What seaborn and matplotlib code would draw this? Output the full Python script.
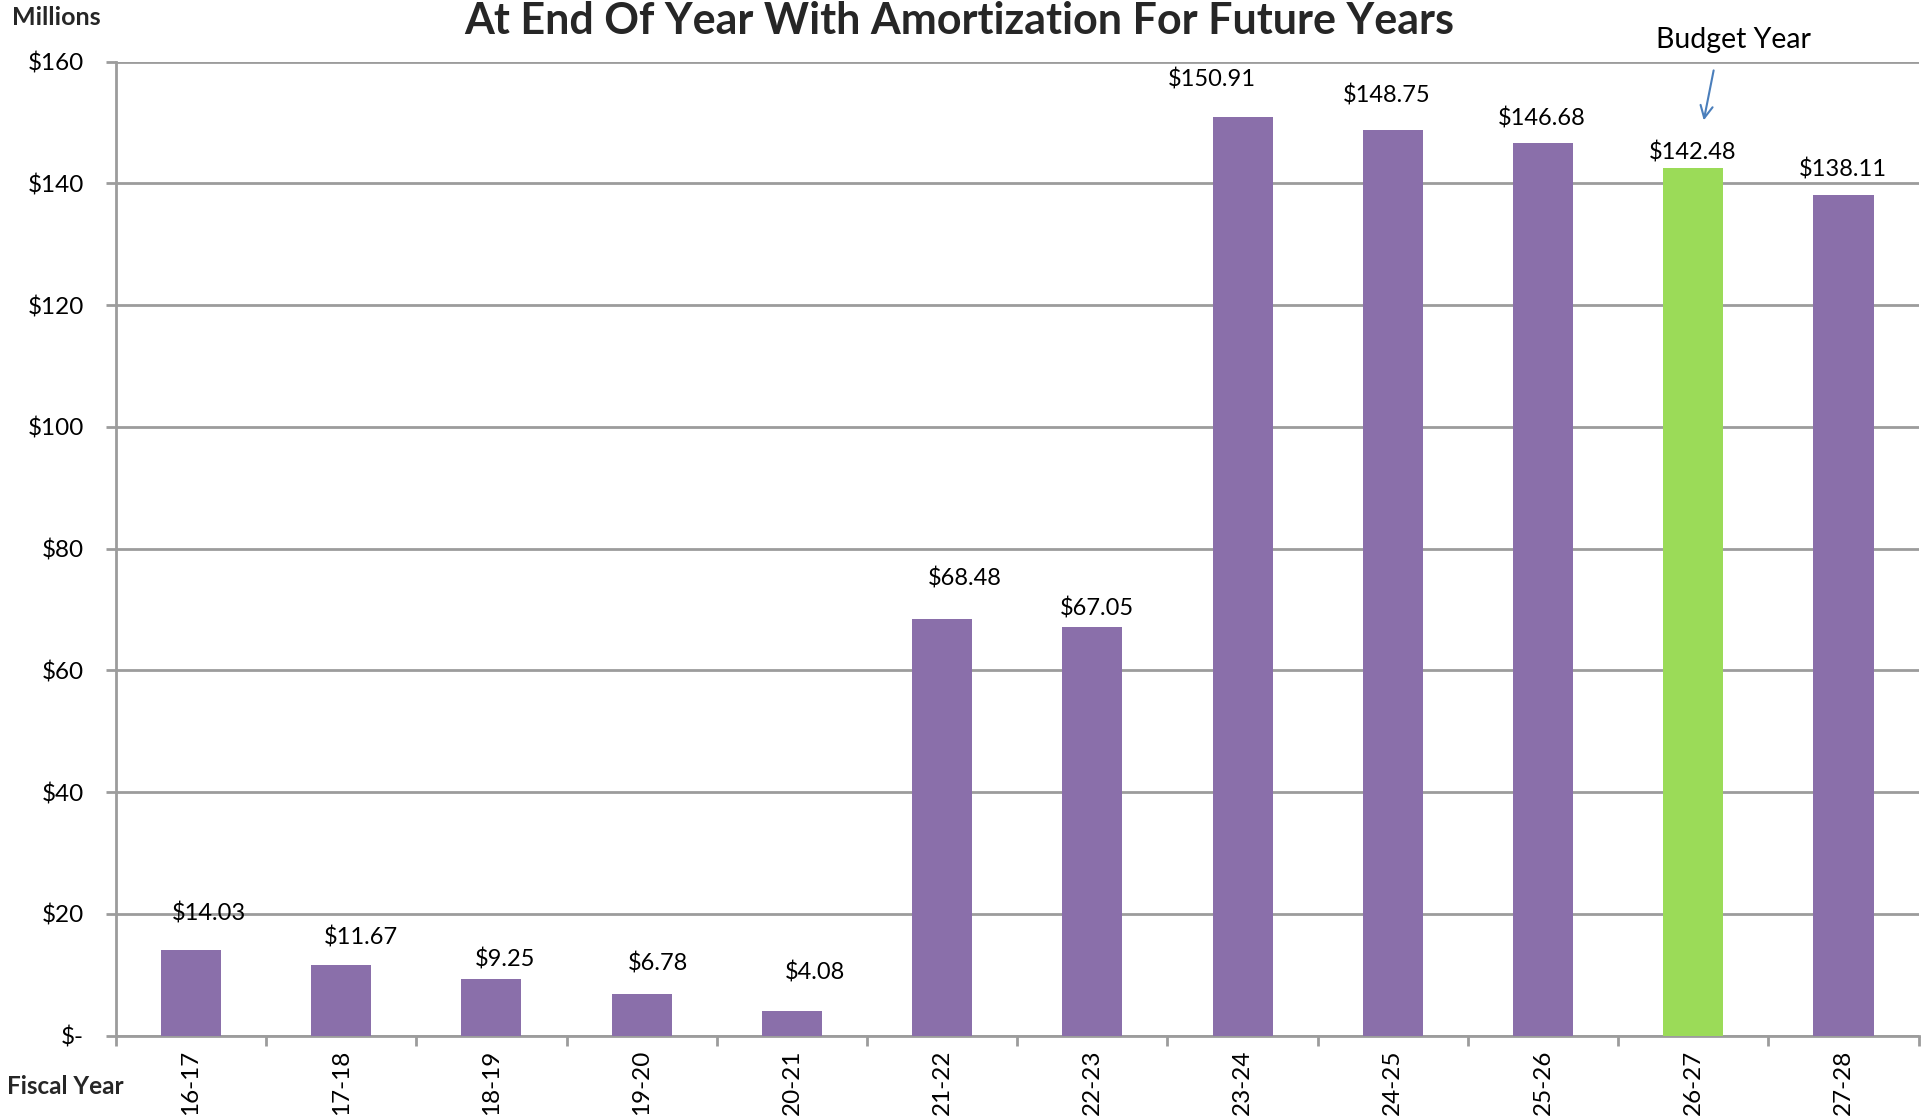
import matplotlib
matplotlib.use("Agg")
import matplotlib.pyplot as plt
import numpy as np
import pandas as pd
import seaborn as sns

# Fiscal years and year-end balances (millions of dollars)
fiscal_years = ["16-17", "17-18", "18-19", "19-20", "20-21", "21-22",
                "22-23", "23-24", "24-25", "25-26", "26-27", "27-28"]
balances = [14.03, 11.67, 9.25, 6.78, 4.08, 68.48,
            67.05, 150.91, 148.75, 146.68, 142.48, 138.11]
budget_year = "26-27"

y_ticks = [0, 20, 40, 60, 80, 100, 120, 140, 160]
y_tick_labels = ["$-", "$20", "$40", "$60", "$80", "$100", "$120", "$140", "$160"]

# hand-placed value-label nudges (pixels: right, up above bar top)
label_dx = [18, 20, 14, 16, 23, 23, 5, -31, -6, -1, -1, -1]
label_dy = [37, 27, 20, 31, 38, 40, 19, 37, 35, 24, 16, 25]

PURPLE = "#8A6FAA"
GREEN = "#9BDB58"
GRID = "#9C9C9C"

sns.set_theme(style="white")
plt.rcParams["font.family"] = ["Lato", "DejaVu Sans"]

df = pd.DataFrame({"year": fiscal_years, "balance": balances})
palette = {y: (GREEN if y == budget_year else PURPLE) for y in fiscal_years}

fig = plt.figure(figsize=(19.31, 11.2), dpi=100)
ax = fig.add_axes([0.060, 0.0753, 0.9336, 0.8697])

sns.barplot(data=df, x="year", y="balance", hue="year", palette=palette,
            order=fiscal_years, width=0.40, saturation=1, legend=False,
            edgecolor="none", ax=ax, zorder=3)

ax.set_xlim(-0.5, len(fiscal_years) - 0.5)
ax.set_ylim(0, 160)
ax.set_yticks(y_ticks)
ax.set_yticklabels(y_tick_labels, fontsize=17.5, color="black")
ax.grid(axis="y", color=GRID, linewidth=2, zorder=0)
ax.grid(axis="x", visible=False)

# category labels under the bars, tick marks at the category boundaries
ax.set_xticks(np.arange(len(fiscal_years)))
ax.set_xticklabels(fiscal_years, rotation=90, fontsize=17.5, color="black")
ax.tick_params(axis="x", which="major", length=0, pad=10)
ax.set_xticks(np.arange(len(fiscal_years) + 1) - 0.5, minor=True)
ax.tick_params(axis="x", which="minor", bottom=True, length=7, width=2, color=GRID)
ax.tick_params(axis="y", left=True, length=7, width=2, color=GRID, pad=16)

for side in ["top", "right"]:
    ax.spines[side].set_visible(False)
for side in ["left", "bottom"]:
    ax.spines[side].set_color(GRID)
    ax.spines[side].set_linewidth(2)
ax.set_xlabel("")
ax.set_ylabel("")

for i, (val, dx, dy) in enumerate(zip(balances, label_dx, label_dy)):
    ax.annotate(f"${val:.2f}", xy=(i, val), xytext=(dx, dy),
                textcoords="offset pixels", ha="center", va="center",
                fontsize=17, color="black", annotation_clip=False)

# budget year callout
bi = fiscal_years.index(budget_year)
ax.annotate("", xy=(bi + 0.066, 149.9), xytext=(bi + 0.139, 159.0),
            arrowprops=dict(arrowstyle="->", color="#4A7EBB", lw=1.5,
                            mutation_scale=22), annotation_clip=False)
ax.text(bi + 0.27, 163.6, "Budget Year", ha="center", va="center",
        fontsize=20.5, color="black", clip_on=False)

fig.text(0.497, 0.970, "At End Of Year With Amortization For Future Years",
         ha="center", va="baseline", fontsize=31, fontweight="bold")
fig.text(0.029, 0.984, "Millions", ha="center", va="center",
         fontsize=18, fontweight="bold")
fig.text(0.034, 0.030, "Fiscal Year", ha="center", va="center",
         fontsize=17.5, fontweight="bold")

fig.savefig("out.png", dpi=100)
